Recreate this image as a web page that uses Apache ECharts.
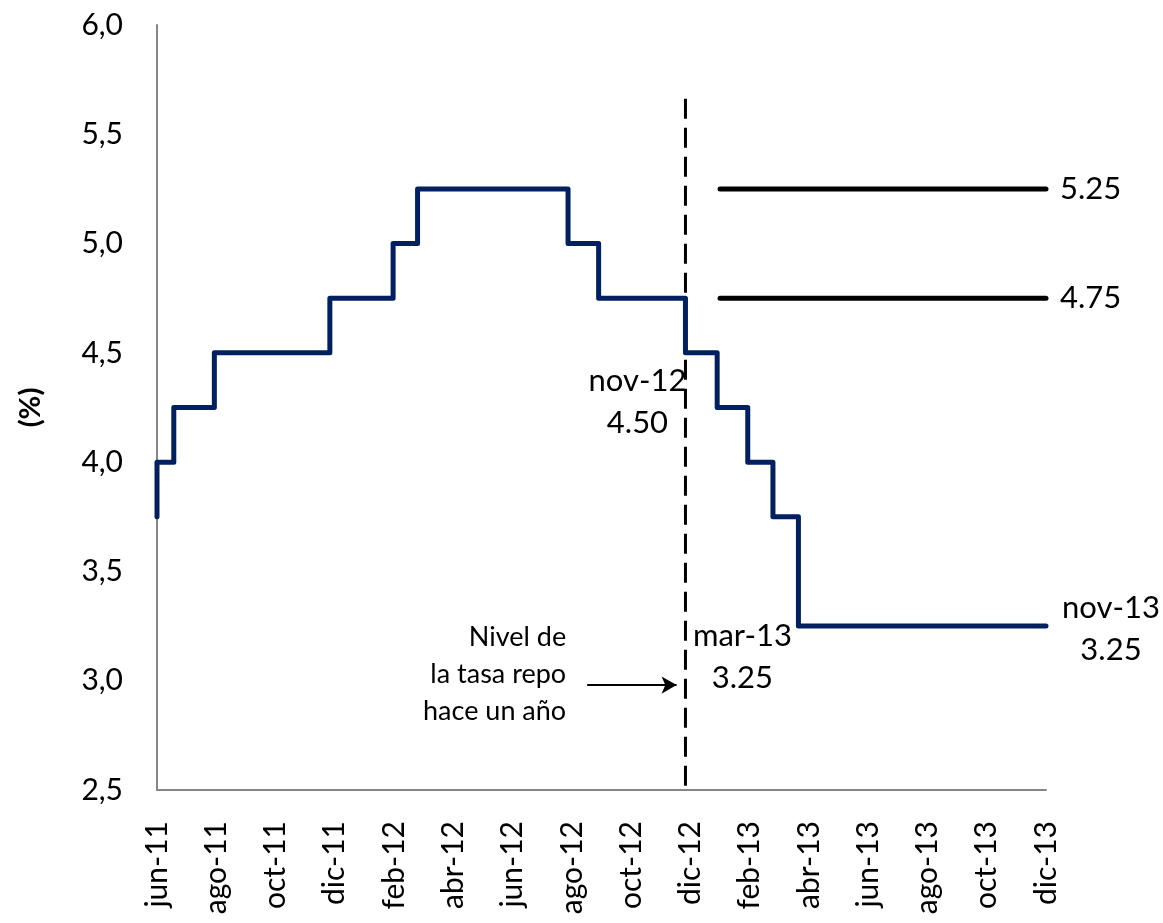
<!DOCTYPE html>
<html>
<head>
<meta charset="utf-8">
<script src="https://cdn.jsdelivr.net/npm/echarts@6/dist/echarts.min.js"></script>
<style>
  html, body { margin: 0; padding: 0; background: #ffffff; }
  #chart { width: 1163px; height: 923px; }
</style>
</head>
<body>
<div id="chart"></div>
<script>
// Tick labels of the time axis, one every two months from jun-2011
const monthLabels = ['jun-11','ago-11','oct-11','dic-11','feb-12','abr-12','jun-12','ago-12',
                     'oct-12','dic-12','feb-13','abr-13','jun-13','ago-13','oct-13','dic-13'];

// Repo rate: date of each change and the new level (%)
const repoDates  = ['2011-06-01','2011-06-01','2011-06-18','2011-07-30','2011-11-26','2012-01-31',
                    '2012-02-24','2012-07-28','2012-08-29','2012-11-26','2012-12-29','2013-01-30',
                    '2013-02-23','2013-03-21','2013-12-01'];
const repoValues = [3.75, 4.00, 4.25, 4.50, 4.75, 5.00, 5.25, 5.00, 4.75, 4.50, 4.25, 4.00, 3.75, 3.25, 3.25];

// Band of levels over the last year
const bandDates = ['2013-01-01', '2013-12-01'];
const bandHigh  = [5.25, 5.25];
const bandLow   = [4.75, 4.75];

// Vertical marker: rate level one year earlier
const markerDate  = '2012-11-26';
const markerRange = [2.52, 5.67];

// Arrow pointing at the marker
const arrowDates = ['2012-08-17', '2012-11-17'];
const arrowLevel = 2.98;

// Callout texts and the points they belong to
const noteDates  = ['2012-11-26', '2013-03-21', '2013-12-01', '2012-08-17'];
const noteValues = [4.50, 3.25, 3.25, 2.98];
const noteTexts  = ['nov-12\n4.50', 'mar-13\n3.25', 'nov-13\n3.25', 'Nivel de\nla tasa repo\nhace un año'];

// Month position (0 = 1 jun 2011) of a yyyy-mm-dd date, with the day as a fraction of the month
function monthPos(s) {
  const [y, m, d] = s.split('-').map(Number);
  const daysInMonth = new Date(y, m, 0).getDate();
  return (y - 2011) * 12 + (m - 6) + (d - 1) / daysInMonth;
}

const FONT = 'Lato';
const navy = '#002060';

const repoData   = repoDates.map((d, i) => [monthPos(d), repoValues[i]]);
const highData   = bandDates.map((d, i) => [monthPos(d), bandHigh[i]]);
const lowData    = bandDates.map((d, i) => [monthPos(d), bandLow[i]]);
const markerData = markerRange.map(v => [monthPos(markerDate), v]);

// Placement of each callout relative to its point
const noteStyle = [
  { align: 'center', offset: [-48, 49], fontSize: 31, lineHeight: 42 },
  { align: 'center', offset: [-56, 31], fontSize: 31, lineHeight: 42 },
  { align: 'center', offset: [65, 3],   fontSize: 31, lineHeight: 42 },
  { align: 'right',  offset: [-21, -11], fontSize: 27, lineHeight: 37 }
];
const noteData = noteDates.map((d, i) => ({
  value: [monthPos(d), noteValues[i]],
  label: {
    show: true,
    position: 'inside',
    formatter: noteTexts[i],
    align: noteStyle[i].align,
    verticalAlign: 'middle',
    offset: noteStyle[i].offset,
    fontSize: noteStyle[i].fontSize,
    lineHeight: noteStyle[i].lineHeight,
    fontFamily: FONT,
    color: '#000000',
    opacity: 1
  }
}));

const chart = echarts.init(document.getElementById('chart'), null, { renderer: 'canvas' });

chart.setOption({
  animation: false,
  backgroundColor: '#ffffff',
  textStyle: { fontFamily: FONT, color: '#000' },
  grid: { left: 157, right: 117, top: 25, bottom: 133, containLabel: false, outerBoundsMode: 'none' },
  xAxis: {
    type: 'value',
    min: 0,
    max: 30,
    interval: 2,
    axisLine: { show: true, lineStyle: { color: '#868686', width: 2 } },
    axisTick: { show: false },
    splitLine: { show: false },
    axisLabel: {
      rotate: 90,
      margin: 31,
      fontSize: 30,
      fontFamily: FONT,
      color: '#000',
      formatter: v => monthLabels[Math.round(v / 2)] || ''
    }
  },
  yAxis: {
    type: 'value',
    min: 2.5,
    max: 6,
    interval: 0.5,
    name: '(%)',
    nameLocation: 'middle',
    nameGap: 112,
    nameMoveOverlap: false,
    nameRotate: 90,
    nameTextStyle: { fontSize: 29, fontWeight: 'bold', fontFamily: FONT, color: '#000' },
    axisLine: { show: true, lineStyle: { color: '#868686', width: 2 } },
    axisTick: { show: false },
    splitLine: { show: false },
    axisLabel: {
      margin: 34,
      fontSize: 30,
      fontFamily: FONT,
      color: '#000',
      formatter: v => v.toFixed(1).replace('.', ',')
    }
  },
  series: [
    {
      name: 'Tasa repo',
      type: 'line',
      step: 'end',
      data: repoData,
      showSymbol: false,
      symbol: 'none',
      lineStyle: { color: navy, width: 5, join: 'round', cap: 'round' },
      z: 3
    },
    {
      name: 'Hace un año',
      type: 'line',
      data: markerData,
      showSymbol: false,
      symbol: 'none',
      lineStyle: { color: '#000', width: 3, type: [20, 9] },
      z: 2
    },
    {
      name: 'Máximo',
      type: 'line',
      data: highData,
      showSymbol: false,
      symbol: 'none',
      lineStyle: { color: '#000', width: 5, cap: 'round' },
      endLabel: { show: true, distance: 14, fontSize: 31, fontFamily: FONT, color: '#000',
                  formatter: p => p.value[1].toFixed(2) }
    },
    {
      name: 'Mínimo',
      type: 'line',
      data: lowData,
      showSymbol: false,
      symbol: 'none',
      lineStyle: { color: '#000', width: 5, cap: 'round' },
      endLabel: { show: true, distance: 14, fontSize: 31, fontFamily: FONT, color: '#000',
                  formatter: p => p.value[1].toFixed(2) }
    },
    {
      name: 'Notas',
      type: 'scatter',
      symbolSize: 0,
      data: noteData,
      itemStyle: { color: '#000000', opacity: 1 },
      markLine: {
        silent: true,
        symbol: ['none', 'arrow'],
        symbolSize: [13, 15],
        label: { show: false },
        lineStyle: { color: '#000', width: 2, type: 'solid' },
        data: [[
          { coord: [monthPos(arrowDates[0]), arrowLevel] },
          { coord: [monthPos(arrowDates[1]), arrowLevel] }
        ]]
      }
    }
  ]
});
</script>
</body>
</html>
